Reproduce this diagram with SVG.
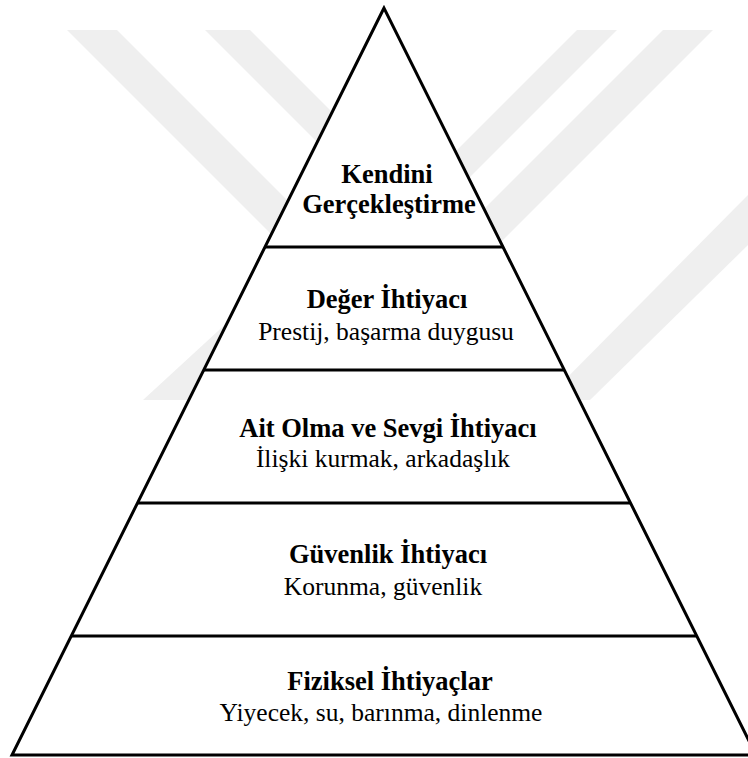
<svg xmlns="http://www.w3.org/2000/svg" width="748" height="758" viewBox="0 0 748 758">
  <style>
    .edge { fill: none; stroke: #000; stroke-width: 3; }
    .title { font-family: "Liberation Serif", "Times New Roman", serif; font-size: 26.5px; font-weight: bold; fill: #000; text-anchor: middle; }
    .sub { font-family: "Liberation Serif", "Times New Roman", serif; font-size: 25.5px; fill: #000; text-anchor: middle; }
    .mark { fill: #efefef; }
  </style>

  <rect width="748" height="758" fill="#fff"/>

  <!-- faint background watermark bands -->
  <g id="watermark">
    <polygon class="mark" points="67,30 117,30 330,243 280,243"/>
    <polygon class="mark" points="205,30 250,30 400,180 355,180"/>
    <polygon class="mark" points="577,30 617,30 420,227 380,227"/>
    <polygon class="mark" points="663,30 713,30 480,263 430,263"/>
    <polygon class="mark" points="748,195 748,245 590,400 545,400"/>
    <polygon class="mark" points="230,320 260,320 190,400 143,400"/>
  </g>

  <!-- pyramid body -->
  <g id="pyramid">
    <polygon points="384,8 12,755 756,755" fill="#fff" stroke="#000" stroke-width="3"/>
  </g>

  <!-- tier dividers -->
  <g id="connectors">
    <line class="edge" x1="265" y1="247" x2="503" y2="247"/>
    <line class="edge" x1="204" y1="370" x2="564" y2="370"/>
    <line class="edge" x1="137" y1="503" x2="631" y2="503"/>
    <line class="edge" x1="71" y1="636" x2="697" y2="636"/>
  </g>

  <g id="tier-self-actualization">
    <text class="title" x="387" y="183">Kendini</text>
    <text class="title" x="389" y="213">Gerçekleştirme</text>
  </g>

  <g id="tier-esteem">
    <text class="title" x="387" y="308">Değer İhtiyacı</text>
    <text class="sub" x="386" y="340">Prestij, başarma duygusu</text>
  </g>

  <g id="tier-belonging">
    <text class="title" x="388" y="437">Ait Olma ve Sevgi İhtiyacı</text>
    <text class="sub" x="383" y="467">İlişki kurmak, arkadaşlık</text>
  </g>

  <g id="tier-safety">
    <text class="title" x="388" y="563">Güvenlik İhtiyacı</text>
    <text class="sub" x="383" y="595">Korunma, güvenlik</text>
  </g>

  <g id="tier-physiological">
    <text class="title" x="390" y="690">Fiziksel İhtiyaçlar</text>
    <text class="sub" x="381" y="721">Yiyecek, su, barınma, dinlenme</text>
  </g>
</svg>
